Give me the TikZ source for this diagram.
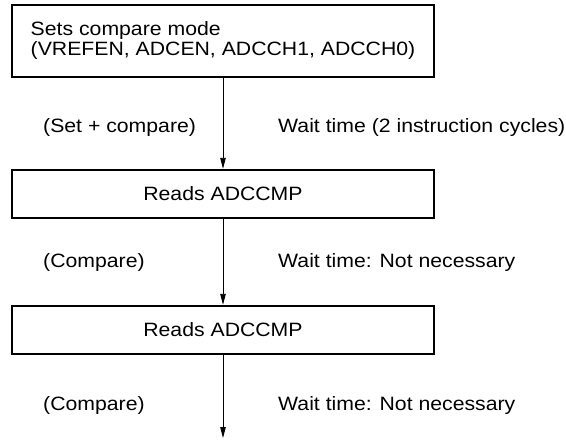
\documentclass[tikz,border=0pt]{standalone}
\usepackage{fontspec}
\setmainfont{Liberation Sans}[FakeStretch=1.1]
\usetikzlibrary{arrows.meta,positioning}

\begin{document}
\begin{tikzpicture}[
  x=1pt, y=-1pt,
  >={Triangle[length=11pt,width=5.5pt]},
  line join=miter,
  font=\fontsize{19.3}{20}\selectfont,
  stepbox/.style={draw=black, line width=2.4pt, minimum width=422pt,
    minimum height=48pt, inner sep=0pt},
  flow/.style={->, draw=black, line width=0.9pt},
  note/.style={anchor=base west, inner sep=0pt}
]
\useasboundingbox (0,0) rectangle (566,440);

% The three steps of the compare sequence.
\node[stepbox, minimum height=72pt, align=left] (mode)
  at (223,41) {Sets compare mode\\(VREFEN, ADCEN, ADCCH1, ADCCH0)};
\node[stepbox] (read1) at (223,194) {Reads ADCCMP};
\node[stepbox] (read2) at (223,330) {Reads ADCCMP};
\coordinate (out) at (223,438);

\draw[flow] (mode) -- (read1);
\draw[flow] (read1) -- (read2);
\draw[flow] (read2) -- (out);

% Notes beside the arrows.
\node[note] (setcmp) at (43,132) {(Set + compare)};
\node[note] (wait1) at (278,132) {Wait time (2 instruction cycles)};
\node[note] (cmp1) at (43,267) {(Compare)};
\node[note] (wait2) at (278,267) {Wait time: Not necessary};
\node[note] (cmp2) at (43,410) {(Compare)};
\node[note] (wait3) at (278,410) {Wait time: Not necessary};
\end{tikzpicture}
\end{document}
